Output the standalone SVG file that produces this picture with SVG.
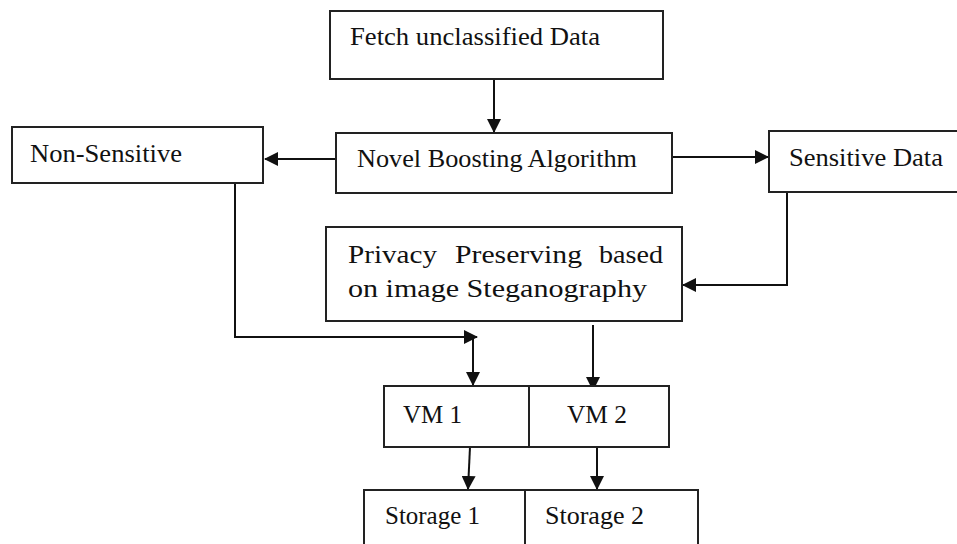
<svg xmlns="http://www.w3.org/2000/svg" width="957" height="544" viewBox="0 0 957 544">
<style>
.box{fill:#fff;stroke:#222;stroke-width:2}
.t{font-family:'Liberation Serif','DejaVu Serif',serif;font-size:25px;fill:#111}
.c{fill:none;stroke:#111;stroke-width:2}
</style>
<defs>
<marker id="ah" markerUnits="userSpaceOnUse" markerWidth="14" markerHeight="14" refX="13" refY="7" orient="auto" viewBox="0 0 14 14">
<path d="M0,0 L14,7 L0,14 z" fill="#111"/>
</marker>
</defs>
<rect width="957" height="544" fill="#fff"/>
<g id="connectors">
<line class="c" x1="494" y1="79" x2="494" y2="132" marker-end="url(#ah)"/>
<line class="c" x1="336" y1="159" x2="265" y2="159" marker-end="url(#ah)"/>
<line class="c" x1="672" y1="157" x2="768" y2="157" marker-end="url(#ah)"/>
<polyline class="c" points="787,193 787,285 683,285" marker-end="url(#ah)"/>
<polyline class="c" points="235,183 235,337 477,337" marker-end="url(#ah)"/>
<line class="c" x1="473" y1="337" x2="473" y2="385" marker-end="url(#ah)"/>
<line class="c" x1="593" y1="325" x2="593" y2="390" marker-end="url(#ah)"/>
<line class="c" x1="470" y1="447" x2="468" y2="489" marker-end="url(#ah)"/>
<line class="c" x1="597" y1="447" x2="597" y2="489" marker-end="url(#ah)"/>
</g>
<g id="fetch">
<rect class="box" x="330" y="11" width="333" height="68"/>
<text class="t" x="350" y="45" textLength="250" lengthAdjust="spacingAndGlyphs">Fetch unclassified Data</text>
</g>
<g id="nonsensitive">
<rect class="box" x="12" y="127" width="251" height="56"/>
<text class="t" x="30" y="162" textLength="152" lengthAdjust="spacingAndGlyphs">Non-Sensitive</text>
</g>
<g id="novel">
<rect class="box" x="336" y="133" width="336" height="60"/>
<text class="t" x="357" y="167" textLength="280" lengthAdjust="spacingAndGlyphs">Novel Boosting Algorithm</text>
</g>
<g id="sensitive">
<rect class="box" x="769" y="131" width="200" height="61"/>
<text class="t" x="789" y="166" textLength="154" lengthAdjust="spacingAndGlyphs">Sensitive Data</text>
</g>
<g id="privacy">
<rect class="box" x="326" y="227" width="356" height="94"/>
<text class="t" y="263"><tspan x="348" textLength="89" lengthAdjust="spacingAndGlyphs">Privacy</tspan><tspan x="455" textLength="127" lengthAdjust="spacingAndGlyphs">Preserving</tspan><tspan x="599" textLength="64" lengthAdjust="spacingAndGlyphs">based</tspan></text>
<text class="t" x="348" y="297" textLength="299" lengthAdjust="spacingAndGlyphs">on image Steganography</text>
</g>
<g id="vm1">
<rect class="box" x="384" y="386" width="145" height="61"/>
<text class="t" x="403" y="423" textLength="59" lengthAdjust="spacingAndGlyphs">VM 1</text>
</g>
<g id="vm2">
<rect class="box" x="529" y="386" width="140" height="61"/>
<text class="t" x="567" y="423" textLength="60" lengthAdjust="spacingAndGlyphs">VM 2</text>
</g>
<g id="storage1">
<rect class="box" x="364" y="490" width="161" height="70"/>
<text class="t" x="385" y="524" textLength="95" lengthAdjust="spacingAndGlyphs">Storage 1</text>
</g>
<g id="storage2">
<rect class="box" x="525" y="490" width="173" height="70"/>
<text class="t" x="545" y="524" textLength="99" lengthAdjust="spacingAndGlyphs">Storage 2</text>
</g>
</svg>
